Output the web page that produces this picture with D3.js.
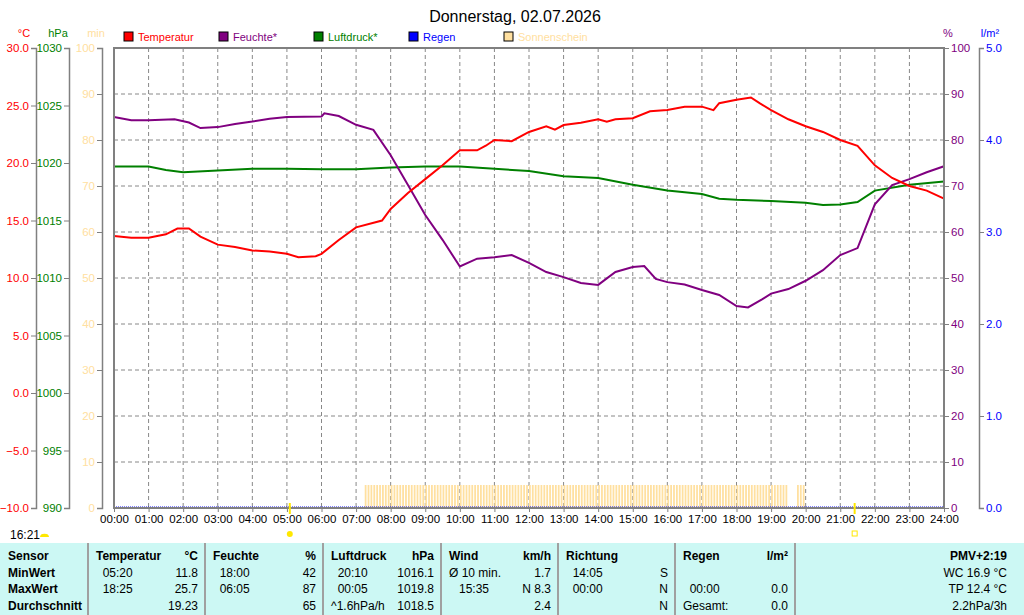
<!DOCTYPE html>
<html><head><meta charset="utf-8">
<script src="https://cdn.jsdelivr.net/npm/d3@7"></script>
<style>body{margin:0;background:#fff}text{font-family:"Liberation Sans",Arial,sans-serif}</style>
</head><body><svg id="c" width="1024" height="615"></svg>
<script>
// temperature °C
const tempData = [["00:00",13.65],["00:30",13.5],["01:00",13.5],["01:30",13.8],["01:50",14.3],["02:10",14.3],["02:30",13.6],["03:00",12.9],["03:30",12.7],["04:00",12.4],["04:30",12.3],["05:00",12.1],["05:20",11.8],["05:50",11.9],["06:00",12.1],["06:30",13.3],["07:00",14.4],["07:45",15.0],["08:00",16.0],["08:30",17.4],["09:00",18.6],["09:30",19.8],["10:00",21.1],["10:30",21.1],["10:45",21.5],["11:00",22.0],["11:30",21.9],["12:00",22.7],["12:30",23.2],["12:45",22.9],["13:00",23.3],["13:30",23.5],["14:00",23.8],["14:15",23.6],["14:30",23.8],["15:00",23.9],["15:30",24.5],["16:00",24.6],["16:30",24.9],["17:00",24.9],["17:20",24.6],["17:30",25.2],["18:00",25.5],["18:25",25.7],["18:40",25.2],["19:00",24.6],["19:30",23.8],["20:00",23.2],["20:30",22.7],["21:00",22.0],["21:30",21.5],["22:00",19.8],["22:30",18.7],["23:00",18.0],["23:30",17.6],["24:00",16.9]];
// humidity %
const humData = [["00:00",85],["00:30",84.3],["01:00",84.3],["01:45",84.5],["02:10",83.8],["02:30",82.6],["03:00",82.8],["03:30",83.5],["04:00",84],["04:30",84.6],["05:00",85],["06:00",85.1],["06:05",85.8],["06:30",85.2],["07:00",83.3],["07:30",82.2],["08:00",76.7],["08:30",70.2],["09:00",63.7],["09:30",58.3],["10:00",52.5],["10:30",54.2],["11:00",54.5],["11:30",55.0],["12:00",53.3],["12:30",51.3],["13:00",50.2],["13:30",48.9],["14:00",48.5],["14:30",51.3],["15:00",52.4],["15:20",52.6],["15:40",49.8],["16:00",49.1],["16:30",48.6],["17:00",47.4],["17:30",46.3],["18:00",43.9],["18:20",43.6],["18:45",45.4],["19:00",46.6],["19:30",47.6],["20:00",49.4],["20:30",51.7],["21:00",55.0],["21:30",56.5],["22:00",66.0],["22:30",70.2],["23:00",71.5],["23:30",73],["24:00",74.3]];
// pressure hPa
const presData = [["00:00",1019.7],["01:00",1019.7],["01:30",1019.4],["02:00",1019.2],["03:00",1019.35],["04:00",1019.5],["05:00",1019.5],["06:00",1019.45],["07:00",1019.45],["08:00",1019.6],["09:00",1019.7],["10:00",1019.7],["11:00",1019.5],["12:00",1019.3],["13:00",1018.85],["14:00",1018.7],["15:00",1018.1],["16:00",1017.6],["17:00",1017.3],["17:30",1016.9],["18:00",1016.8],["19:00",1016.7],["20:00",1016.55],["20:30",1016.35],["21:00",1016.4],["21:30",1016.6],["22:00",1017.6],["23:00",1018.1],["24:00",1018.4]];
// sunshine: periods with 5 min of sun per 5-min interval
const sunPeriods = [["07:15","19:30"],["19:45","20:00"]];
const sunPerInterval = 5;
const hourLabels = d3.range(0,25).map(h => String(h).padStart(2,"0")+":00");
const legendItems = [["Temperatur","#ff0000"],["Feuchte*","#800080"],["Luftdruck*","#008000"],["Regen","#0000ff"],["Sonnenschein","#ffe0a0"]];
const tableCols = [
  {x0:0,x1:88,rows:[["Sensor",""],["MinWert",""],["MaxWert",""],["Durchschnitt",""]]},
  {x0:88,x1:205,rows:[["Temperatur","°C"],["  05:20","11.8"],["  18:25","25.7"],["","19.23"]]},
  {x0:205,x1:323,rows:[["Feuchte","%"],["  18:00","42"],["  06:05","87"],["","65"]]},
  {x0:323,x1:441,rows:[["Luftdruck","hPa"],["  20:10","1016.1"],["  00:05","1019.8"],["^1.6hPa/h","1018.5"]]},
  {x0:441,x1:558,rows:[["Wind","km/h"],["Ø 10 min.","1.7"],["   15:35","N 8.3"],["","2.4"]]},
  {x0:558,x1:675,rows:[["Richtung",""],["  14:05","S"],["  00:00","N"],["","N"]]},
  {x0:675,x1:795,rows:[["Regen","l/m²"],["",""],["  00:00","0.0"],["Gesamt:","0.0"]]}
];
const pmvRows = ["PMV+2:19","WC 16.9 °C","TP 12.4 °C","2.2hPa/3h"];

const svg = d3.select("#c");
const tm = s => { const [h,m] = s.split(":"); return +h*60 + +m; };
const L = 114, R = 944, T = 48, B = 508;
const x = d3.scaleLinear().domain([0,1440]).range([L,R]);
const yMin = d3.scaleLinear().domain([0,100]).range([B,T]);
const yT = d3.scaleLinear().domain([-10,30]).range([B,T]);
const yP = d3.scaleLinear().domain([990,1030]).range([B,T]);
const yR = d3.scaleLinear().domain([0,5]).range([B,T]);

svg.append("text").attr("x",515).attr("y",22).attr("text-anchor","middle").attr("font-size",16).text("Donnerstag, 02.07.2026");

// grid
const g = svg.append("g");
g.selectAll(".v").data(d3.range(60,1440,60)).join("line")
  .attr("x1",d=>x(d)).attr("x2",d=>x(d)).attr("y1",T).attr("y2",B)
  .attr("stroke","#888").attr("stroke-dasharray","4,3");
g.selectAll(".h").data(d3.range(10,100,10)).join("line")
  .attr("x1",L).attr("x2",R).attr("y1",d=>yMin(d)).attr("y2",d=>yMin(d))
  .attr("stroke","#888").attr("stroke-dasharray","4,3");

// sunshine bars
const sunSlots = [];
sunPeriods.forEach(([a,b]) => { for (let t = tm(a); t < tm(b); t += 5) sunSlots.push([t, sunPerInterval]); });
svg.append("g").selectAll("rect").data(sunSlots).join("rect")
  .attr("x",d=>x(d[0])).attr("width",x(5)-x(0)-1.1)
  .attr("y",d=>yMin(d[1])).attr("height",d=>B-yMin(d[1]))
  .attr("fill","#ffe0a0");

// rain baseline
svg.append("line").attr("x1",L).attr("x2",R).attr("y1",B-1).attr("y2",B-1).attr("stroke","#0000ff").attr("stroke-dasharray","1,1");

const line = (ys) => d3.line().x(d=>x(tm(d[0]))).y(d=>ys(d[1]));
svg.append("path").datum(presData).attr("d",line(yP)).attr("fill","none").attr("stroke","#008000").attr("stroke-width",2);
svg.append("path").datum(humData).attr("d",line(yMin)).attr("fill","none").attr("stroke","#800080").attr("stroke-width",2);
svg.append("path").datum(tempData).attr("d",line(yT)).attr("fill","none").attr("stroke","#ff0000").attr("stroke-width",2);

// frame
svg.append("rect").attr("x",L).attr("y",T).attr("width",R-L).attr("height",B-T).attr("fill","none").attr("stroke","#808080").attr("stroke-width",2);

// axes
function axis(pos, scale, ticks, fmt, color, orient) {
  const ax = svg.append("g").attr("transform",`translate(${pos},0)`)
    .call((orient==="l"?d3.axisLeft(scale):d3.axisRight(scale)).tickValues(ticks).tickFormat(fmt).tickSize(5).tickPadding(2));
  ax.select(".domain").attr("stroke","#808080").attr("stroke-width",1.5);
  ax.selectAll(".tick line").attr("stroke","#808080");
  ax.selectAll("text").attr("fill",color).attr("font-size",11.5).attr("font-family","Liberation Sans, Arial");
  return ax;
}
axis(36, yT, d3.range(-10,31,5), d3.format(".1f"), "#ff0000", "l");
axis(69, yP, d3.range(990,1031,5), d3.format("d"), "#008000", "l");
axis(102, yMin, d3.range(0,101,10), d3.format("d"), "#ffe0a0", "l");
axis(R, yMin, d3.range(0,101,10), d3.format("d"), "#800080", "r").select(".domain").remove();
axis(979, yR, d3.range(0,5.1,1), d3.format(".1f"), "#0000ff", "r");
svg.append("g").attr("transform",`translate(0,${B})`)
  .call(d3.axisBottom(x).tickValues(d3.range(0,1441,60)).tickFormat((d,i)=>hourLabels[i]).tickSize(4).tickPadding(3))
  .call(a=>{a.select(".domain").remove();a.selectAll("line").attr("stroke","#808080");a.selectAll("text").attr("font-size",11.5).attr("font-family","Liberation Sans, Arial");});

// units
[["°C",24,"#ff0000"],["hPa",58,"#008000"],["min",96,"#ffe0a0"],["%",948,"#800080"],["l/m²",990,"#0000ff"]].forEach(([t,px,c])=>
  svg.append("text").attr("x",px).attr("y",37).attr("text-anchor","middle").attr("font-size",11).attr("fill",c).text(t));

// legend
const leg = svg.append("g").selectAll("g").data(legendItems).join("g")
  .attr("transform",(d,i)=>`translate(${[124,219,314,409,504][i]},32)`);
leg.append("rect").attr("width",9).attr("height",9).attr("fill",d=>d[1]).attr("stroke","#000");
leg.append("text").attr("x",14).attr("y",9).attr("font-size",11).attr("fill",d=>d[1]).text(d=>d[0]);

// sunrise / sunset markers
svg.append("line").attr("x1",x(tm("05:05"))).attr("x2",x(tm("05:05"))).attr("y1",B-5).attr("y2",B+6).attr("stroke","#ffe800").attr("stroke-width",2);
svg.append("circle").attr("cx",x(tm("05:05"))).attr("cy",534).attr("r",3).attr("fill","#ffe800");
svg.append("line").attr("x1",x(tm("21:25"))).attr("x2",x(tm("21:25"))).attr("y1",B-5).attr("y2",B+6).attr("stroke","#ffe800").attr("stroke-width",2);
svg.append("rect").attr("x",x(tm("21:25"))-2.5).attr("y",531).attr("width",5).attr("height",5).attr("fill","none").attr("stroke","#ffe800");
svg.append("text").attr("x",10).attr("y",539).attr("font-size",12).text("16:21");
svg.append("path").attr("d","M40,537 a4,3 0 0 1 9,0 z").attr("fill","#ffe800");

// table
const tb = svg.append("g").attr("transform","translate(0,543)");
tb.append("rect").attr("width",1024).attr("height",72).attr("fill","#ccf8f4");
[88,205,323,441,558,675,795].forEach(px=>tb.append("line").attr("x1",px).attr("x2",px).attr("y1",0).attr("y2",72).attr("stroke","#a0a0a0").attr("stroke-width",2));
tableCols.forEach((c,ci)=>c.rows.forEach((r,ri)=>{
  const y = 17 + ri*16.5, bold = ci===0 || ri===0;
  tb.append("text").attr("x",c.x0+8).attr("y",y).attr("font-size",12).attr("font-weight",bold?"bold":"normal").attr("xml:space","preserve").text(r[0]);
  tb.append("text").attr("x",c.x1-7).attr("y",y).attr("text-anchor","end").attr("font-size",12).attr("font-weight",ri===0?"bold":"normal").text(r[1]);
}));
pmvRows.forEach((t,i)=>tb.append("text").attr("x",1007).attr("y",17+i*16.5).attr("text-anchor","end").attr("font-size",12).attr("font-weight",i===0?"bold":"normal").text(t));
</script></body></html>
